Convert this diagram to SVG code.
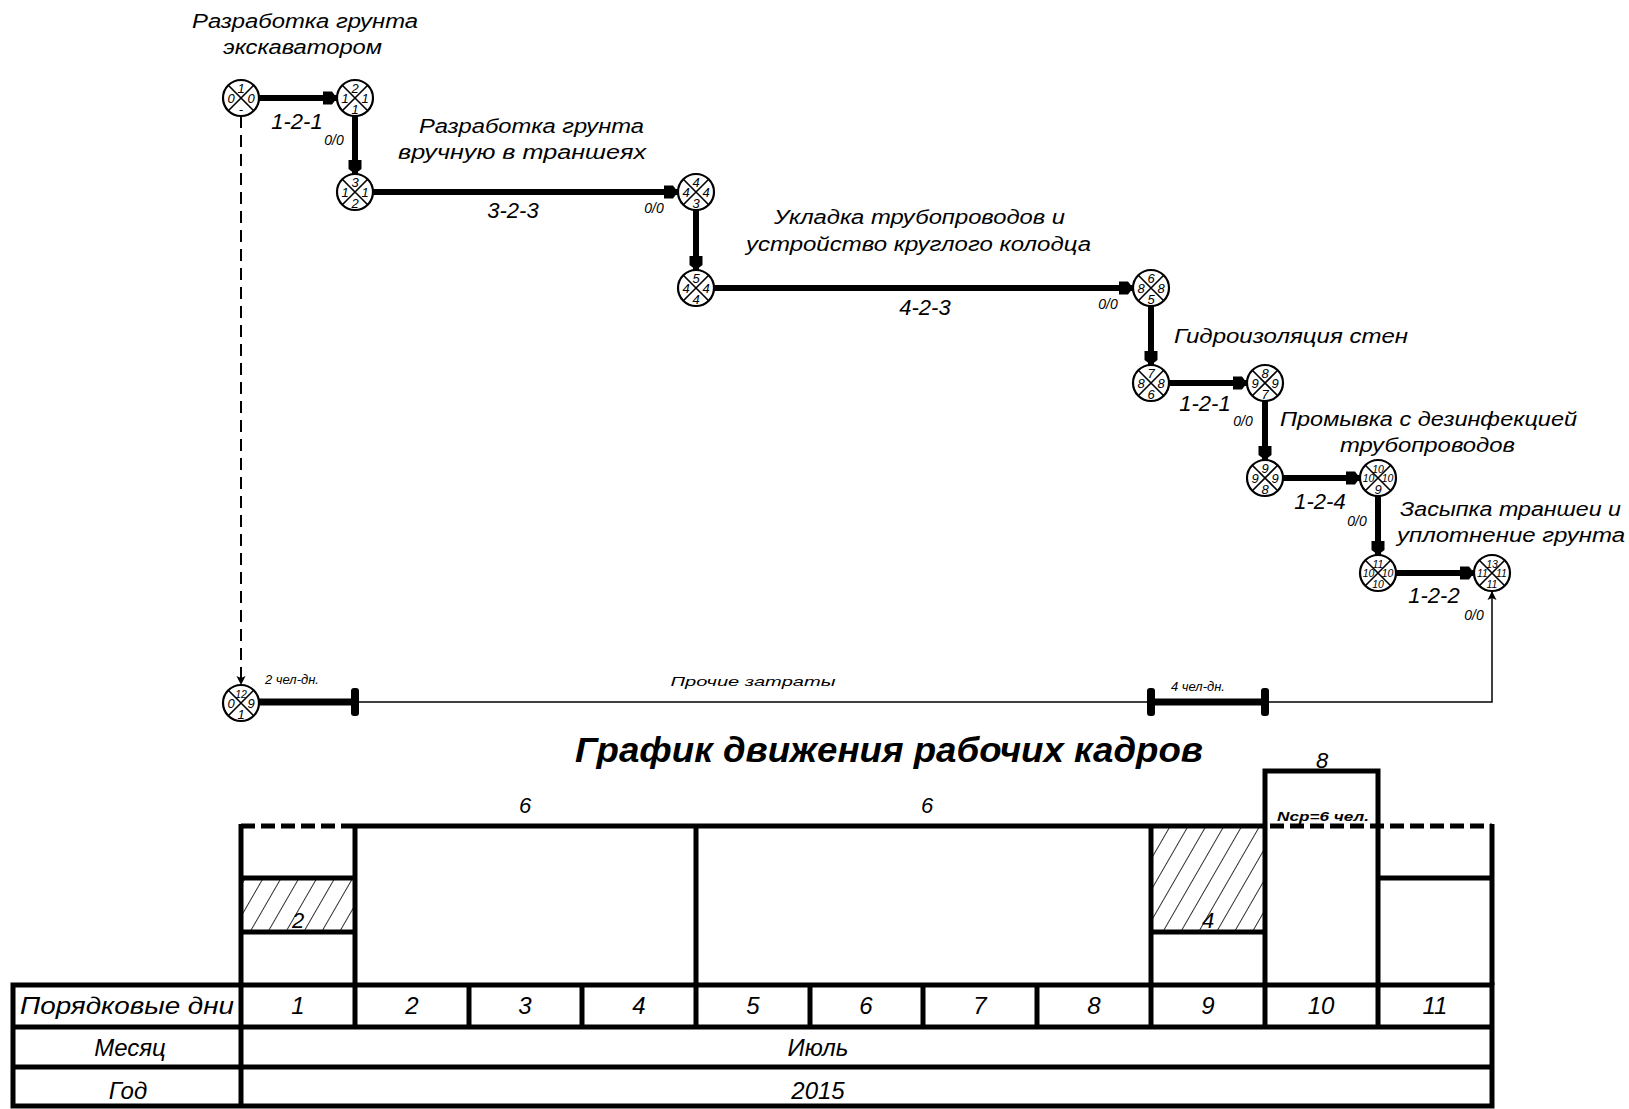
<svg xmlns="http://www.w3.org/2000/svg" width="1629" height="1109" viewBox="0 0 1629 1109">
<style>
text{font-family:"Liberation Sans",Arial,sans-serif;font-style:italic;fill:#000}
.nc{fill:#fff;stroke:#000;stroke-width:2.2}
.nx{stroke:#000;stroke-width:1.6;fill:none}
.nt{font-size:13px;text-anchor:middle}
.ns{font-size:10.5px;text-anchor:middle}
.lbl{font-size:20px}
.code{font-size:22px;text-anchor:middle}
.oo{font-size:14px;text-anchor:middle}
.small{font-size:13px}
.tbl{font-size:24px;text-anchor:middle}
.thick{stroke:#000;stroke-width:6;fill:none}
.thin{stroke:#000;stroke-width:1.5;fill:none}
.hl{stroke:#000;stroke-width:5;fill:none}
.dash{stroke:#000;stroke-width:5;fill:none;stroke-dasharray:14 6}
.bar{fill:#000}
</style>
<defs>
<marker id="ah" markerUnits="userSpaceOnUse" markerWidth="16" markerHeight="16" refX="14" refY="8" orient="auto"><path d="M0,1.5 L9,1.5 L14,8 L9,14.5 L0,14.5 Z" fill="#000"/></marker>
<marker id="ta" markerUnits="userSpaceOnUse" markerWidth="10" markerHeight="10" refX="9" refY="5" orient="auto"><path d="M0,0.5 L9,5 L0,9.5 L2,5 Z" fill="#000"/></marker>
<pattern id="hatch" patternUnits="userSpaceOnUse" width="15.5" height="40" patternTransform="rotate(30)"><line x1="0" y1="0" x2="0" y2="40" stroke="#000" stroke-width="1.6"/></pattern>
</defs>
<rect width="1629" height="1109" fill="#fff"/>

<!-- activity labels -->
<g id="labels">
<text class="lbl" x="192" y="28" textLength="226" lengthAdjust="spacingAndGlyphs">Разработка грунта</text>
<text class="lbl" x="223" y="54" textLength="159" lengthAdjust="spacingAndGlyphs">экскаватором</text>
<text class="lbl" x="419" y="133" textLength="225" lengthAdjust="spacingAndGlyphs">Разработка грунта</text>
<text class="lbl" x="398" y="159" textLength="248" lengthAdjust="spacingAndGlyphs">вручную в траншеях</text>
<text class="lbl" x="774" y="224" textLength="291" lengthAdjust="spacingAndGlyphs">Укладка трубопроводов и</text>
<text class="lbl" x="746" y="251" textLength="345" lengthAdjust="spacingAndGlyphs">устройство круглого колодца</text>
<text class="lbl" x="1174" y="343" textLength="234" lengthAdjust="spacingAndGlyphs">Гидроизоляция стен</text>
<text class="lbl" x="1280" y="426" textLength="297" lengthAdjust="spacingAndGlyphs">Промывка с дезинфекцией</text>
<text class="lbl" x="1340" y="452" textLength="175" lengthAdjust="spacingAndGlyphs">трубопроводов</text>
<text class="lbl" x="1400" y="516" textLength="221" lengthAdjust="spacingAndGlyphs">Засыпка траншеи и</text>
<text class="lbl" x="1397" y="542" textLength="228" lengthAdjust="spacingAndGlyphs">уплотнение грунта</text>

<text class="code" x="297" y="129">1-2-1</text>
<text class="oo" x="334" y="145">0/0</text>
<text class="code" x="513" y="218">3-2-3</text>
<text class="oo" x="654" y="213">0/0</text>
<text class="code" x="925" y="315">4-2-3</text>
<text class="oo" x="1108" y="309">0/0</text>
<text class="code" x="1205" y="411">1-2-1</text>
<text class="oo" x="1243" y="426">0/0</text>
<text class="code" x="1320" y="509">1-2-4</text>
<text class="oo" x="1357" y="526">0/0</text>
<text class="code" x="1434" y="603">1-2-2</text>
<text class="oo" x="1474" y="620">0/0</text>

<text class="small" x="265" y="684">2 чел-дн.</text>
<text class="small" x="753" y="686" text-anchor="middle" textLength="165" lengthAdjust="spacingAndGlyphs">Прочие затраты</text>
<text class="small" x="1171" y="691">4 чел-дн.</text>
</g>

<!-- connectors -->
<g id="connectors">
<line class="thick" x1="259" y1="98" x2="337" y2="98" marker-end="url(#ah)"/>
<line class="thick" x1="355" y1="116" x2="355" y2="174" marker-end="url(#ah)"/>
<line class="thick" x1="373" y1="192" x2="678" y2="192" marker-end="url(#ah)"/>
<line class="thick" x1="696" y1="210" x2="696" y2="270" marker-end="url(#ah)"/>
<line class="thick" x1="714" y1="288" x2="1133" y2="288" marker-end="url(#ah)"/>
<line class="thick" x1="1151" y1="306" x2="1151" y2="365" marker-end="url(#ah)"/>
<line class="thick" x1="1169" y1="383" x2="1247" y2="383" marker-end="url(#ah)"/>
<line class="thick" x1="1265" y1="401" x2="1265" y2="460" marker-end="url(#ah)"/>
<line class="thick" x1="1283" y1="478" x2="1360" y2="478" marker-end="url(#ah)"/>
<line class="thick" x1="1378" y1="496" x2="1378" y2="555" marker-end="url(#ah)"/>
<line class="thick" x1="1396" y1="573" x2="1474" y2="573" marker-end="url(#ah)"/>
<line x1="241" y1="116" x2="241" y2="685" stroke="#000" stroke-width="2" stroke-dasharray="12 7" marker-end="url(#ta)"/>
<polyline class="thin" points="259,702 1492,702 1492,591" marker-end="url(#ta)"/>
<line x1="259" y1="702" x2="355" y2="702" stroke="#000" stroke-width="7"/>
<rect class="bar" x="351" y="688" width="8" height="28" rx="3"/>
<line x1="1151" y1="702" x2="1265" y2="702" stroke="#000" stroke-width="7"/>
<rect class="bar" x="1147" y="688" width="8" height="28" rx="3"/>
<rect class="bar" x="1261" y="688" width="8" height="28" rx="3"/>
</g>

<!-- nodes -->
<g id="n1" transform="translate(241,98)"><circle class="nc" r="18"/><path class="nx" d="M-12.7,-12.7L12.7,12.7M12.7,-12.7L-12.7,12.7"/><text class="nt" x="0" y="-5">1</text><text class="nt" x="-10" y="5">0</text><text class="nt" x="10" y="5">0</text><text class="nt" x="0" y="16">-</text></g>
<g id="n2" transform="translate(355,98)"><circle class="nc" r="18"/><path class="nx" d="M-12.7,-12.7L12.7,12.7M12.7,-12.7L-12.7,12.7"/><text class="nt" x="0" y="-5">2</text><text class="nt" x="-10" y="5">1</text><text class="nt" x="10" y="5">1</text><text class="nt" x="0" y="16">1</text></g>
<g id="n3" transform="translate(355,192)"><circle class="nc" r="18"/><path class="nx" d="M-12.7,-12.7L12.7,12.7M12.7,-12.7L-12.7,12.7"/><text class="nt" x="0" y="-5">3</text><text class="nt" x="-10" y="5">1</text><text class="nt" x="10" y="5">1</text><text class="nt" x="0" y="16">2</text></g>
<g id="n4" transform="translate(696,192)"><circle class="nc" r="18"/><path class="nx" d="M-12.7,-12.7L12.7,12.7M12.7,-12.7L-12.7,12.7"/><text class="nt" x="0" y="-5">4</text><text class="nt" x="-10" y="5">4</text><text class="nt" x="10" y="5">4</text><text class="nt" x="0" y="16">3</text></g>
<g id="n5" transform="translate(696,288)"><circle class="nc" r="18"/><path class="nx" d="M-12.7,-12.7L12.7,12.7M12.7,-12.7L-12.7,12.7"/><text class="nt" x="0" y="-5">5</text><text class="nt" x="-10" y="5">4</text><text class="nt" x="10" y="5">4</text><text class="nt" x="0" y="16">4</text></g>
<g id="n6" transform="translate(1151,288)"><circle class="nc" r="18"/><path class="nx" d="M-12.7,-12.7L12.7,12.7M12.7,-12.7L-12.7,12.7"/><text class="nt" x="0" y="-5">6</text><text class="nt" x="-10" y="5">8</text><text class="nt" x="10" y="5">8</text><text class="nt" x="0" y="16">5</text></g>
<g id="n7" transform="translate(1151,383)"><circle class="nc" r="18"/><path class="nx" d="M-12.7,-12.7L12.7,12.7M12.7,-12.7L-12.7,12.7"/><text class="nt" x="0" y="-5">7</text><text class="nt" x="-10" y="5">8</text><text class="nt" x="10" y="5">8</text><text class="nt" x="0" y="16">6</text></g>
<g id="n8" transform="translate(1265,383)"><circle class="nc" r="18"/><path class="nx" d="M-12.7,-12.7L12.7,12.7M12.7,-12.7L-12.7,12.7"/><text class="nt" x="0" y="-5">8</text><text class="nt" x="-10" y="5">9</text><text class="nt" x="10" y="5">9</text><text class="nt" x="0" y="16">7</text></g>
<g id="n9" transform="translate(1265,478)"><circle class="nc" r="18"/><path class="nx" d="M-12.7,-12.7L12.7,12.7M12.7,-12.7L-12.7,12.7"/><text class="nt" x="0" y="-5">9</text><text class="nt" x="-10" y="5">9</text><text class="nt" x="10" y="5">9</text><text class="nt" x="0" y="16">8</text></g>
<g id="n10" transform="translate(1378,478)"><circle class="nc" r="18"/><path class="nx" d="M-12.7,-12.7L12.7,12.7M12.7,-12.7L-12.7,12.7"/><text class="ns" x="0" y="-5">10</text><text class="ns" x="-9.5" y="4">10</text><text class="ns" x="9.5" y="4">10</text><text class="nt" x="0" y="16">9</text></g>
<g id="n11" transform="translate(1378,573)"><circle class="nc" r="18"/><path class="nx" d="M-12.7,-12.7L12.7,12.7M12.7,-12.7L-12.7,12.7"/><text class="ns" x="0" y="-5">11</text><text class="ns" x="-9.5" y="4">10</text><text class="ns" x="9.5" y="4">10</text><text class="ns" x="0" y="15">10</text></g>
<g id="n12" transform="translate(1492,573)"><circle class="nc" r="18"/><path class="nx" d="M-12.7,-12.7L12.7,12.7M12.7,-12.7L-12.7,12.7"/><text class="ns" x="0" y="-5">13</text><text class="ns" x="-9.5" y="4">11</text><text class="ns" x="9.5" y="4">11</text><text class="ns" x="0" y="15">11</text></g>
<g id="n13" transform="translate(241,703)"><circle class="nc" r="18"/><path class="nx" d="M-12.7,-12.7L12.7,12.7M12.7,-12.7L-12.7,12.7"/><text class="ns" x="0" y="-5">12</text><text class="nt" x="-10" y="5">0</text><text class="nt" x="10" y="5">9</text><text class="nt" x="0" y="16">1</text></g>

<!-- histogram -->
<g id="histogram">
<text x="889" y="762" font-size="35" font-weight="bold" text-anchor="middle" textLength="628" lengthAdjust="spacingAndGlyphs">График движения рабочих кадров</text>
<rect x="241" y="878" width="114" height="54" fill="url(#hatch)"/>
<rect x="1151" y="826" width="114" height="106" fill="url(#hatch)"/>
<line class="dash" x1="241" y1="826" x2="355" y2="826"/>
<line class="hl" x1="355" y1="826" x2="1265" y2="826"/>
<line class="dash" x1="1270" y1="826" x2="1492" y2="826"/>
<line class="hl" x1="241" y1="878" x2="355" y2="878"/>
<line class="hl" x1="241" y1="932" x2="355" y2="932"/>
<line class="hl" x1="1151" y1="932" x2="1265" y2="932"/>
<line class="hl" x1="1378" y1="878" x2="1492" y2="878"/>
<polyline class="hl" points="1265,985 1265,771 1378,771 1378,985"/>
<line class="hl" x1="241" y1="824" x2="241" y2="985"/>
<line class="hl" x1="355" y1="824" x2="355" y2="985"/>
<line class="hl" x1="696" y1="824" x2="696" y2="985"/>
<line class="hl" x1="1151" y1="824" x2="1151" y2="985"/>
<line class="hl" x1="1492" y1="824" x2="1492" y2="985"/>
<text x="525" y="813" font-size="22" text-anchor="middle">6</text>
<text x="927" y="813" font-size="22" text-anchor="middle">6</text>
<text x="1322" y="768" font-size="22" text-anchor="middle">8</text>
<text x="1323" y="821" font-size="13" font-weight="bold" text-anchor="middle" textLength="92" lengthAdjust="spacingAndGlyphs">Nср=6 чел.</text>
<text x="298" y="928" font-size="22" text-anchor="middle">2</text>
<text x="1208" y="928" font-size="22" text-anchor="middle">4</text>
</g>

<!-- table -->
<g id="table">
<rect x="13" y="985" width="1479" height="121" fill="none" stroke="#000" stroke-width="5"/>
<line class="hl" x1="13" y1="1027" x2="1492" y2="1027"/>
<line class="hl" x1="13" y1="1067" x2="1492" y2="1067"/>
<line class="hl" x1="241" y1="985" x2="241" y2="1106"/>
<line class="hl" x1="355" y1="985" x2="355" y2="1027"/>
<line class="hl" x1="469" y1="985" x2="469" y2="1027"/>
<line class="hl" x1="582" y1="985" x2="582" y2="1027"/>
<line class="hl" x1="696" y1="985" x2="696" y2="1027"/>
<line class="hl" x1="810" y1="985" x2="810" y2="1027"/>
<line class="hl" x1="923" y1="985" x2="923" y2="1027"/>
<line class="hl" x1="1037" y1="985" x2="1037" y2="1027"/>
<line class="hl" x1="1151" y1="985" x2="1151" y2="1027"/>
<line class="hl" x1="1265" y1="985" x2="1265" y2="1027"/>
<line class="hl" x1="1378" y1="985" x2="1378" y2="1027"/>
<text class="tbl" x="127" y="1014" textLength="214" lengthAdjust="spacingAndGlyphs">Порядковые дни</text>
<text class="tbl" x="298" y="1014">1</text>
<text class="tbl" x="412" y="1014">2</text>
<text class="tbl" x="525" y="1014">3</text>
<text class="tbl" x="639" y="1014">4</text>
<text class="tbl" x="753" y="1014">5</text>
<text class="tbl" x="866" y="1014">6</text>
<text class="tbl" x="980" y="1014">7</text>
<text class="tbl" x="1094" y="1014">8</text>
<text class="tbl" x="1208" y="1014">9</text>
<text class="tbl" x="1321" y="1014">10</text>
<text class="tbl" x="1435" y="1014">11</text>
<text class="tbl" x="130" y="1056">Месяц</text>
<text class="tbl" x="818" y="1056">Июль</text>
<text class="tbl" x="128" y="1099">Год</text>
<text class="tbl" x="818" y="1099">2015</text>
</g>
</svg>
